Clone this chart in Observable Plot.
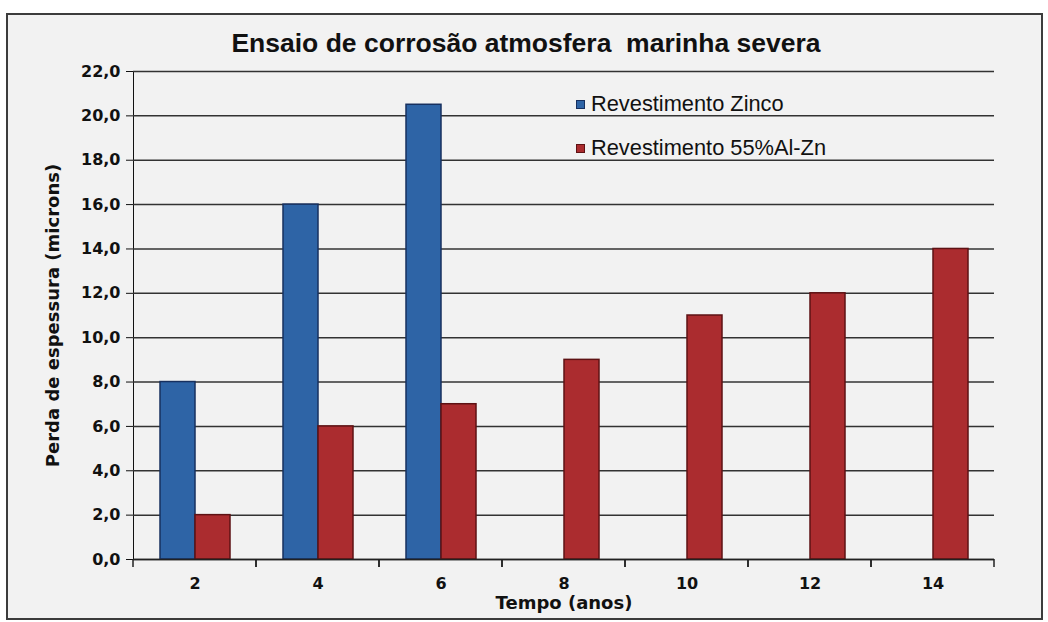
<!DOCTYPE html>
<html>
<head>
<meta charset="utf-8">
<script src="https://cdn.jsdelivr.net/npm/d3@7"></script>
<script src="https://cdn.jsdelivr.net/npm/@observablehq/plot@0.6"></script>
<style>
  html, body { margin: 0; padding: 0; background: #ffffff; }
  #wrap { position: relative; width: 1048px; height: 622px; overflow: hidden; }
  #frame { position: absolute; left: 6px; top: 13px; width: 1033px; height: 603px;
           border: 2px solid #3c3c3c; background: #f2f2f2; }
  #title { position: absolute; left: 0; width: 1052px; top: 28px; text-align: center;
           font-family: "Liberation Sans", Arial, sans-serif; font-weight: bold; font-size: 26.5px; color: #111; }
  #chart { position: absolute; left: 0; top: 60px; }
  .leg { position: absolute; left: 576px; font-family: "Liberation Sans", Arial, sans-serif;
         font-size: 21.8px; color: #111; display: flex; align-items: center; white-space: nowrap; }
  .leg .sw { width: 7px; height: 7px; margin-right: 6px; border: 1px solid; }
  #chart [aria-label="y-axis label"], #chart [aria-label="fx-axis label"] { font-size: 18px; }
</style>
</head>
<body>
<div id="wrap">
  <div id="frame"></div>
  <div id="title">Ensaio de corrosão atmosfera&nbsp; marinha severa</div>
  <div id="chart"></div>
  <div class="leg" style="top:91px"><span class="sw" style="background:#2e64a6;border-color:#17305f"></span>Revestimento Zinco</div>
  <div class="leg" style="top:135px"><span class="sw" style="background:#ab2c2f;border-color:#5e1214"></span>Revestimento 55%Al-Zn</div>
</div>
<script>
const years = [2, 4, 6, 8, 10, 12, 14];
const zinco = [8.0, 16.0, 20.5, null, null, null, null];
const alzn = [2.0, 6.0, 7.0, 9.0, 11.0, 12.0, 14.0];
const seriesNames = ["Revestimento Zinco", "Revestimento 55%Al-Zn"];
const yTicks = [0, 2, 4, 6, 8, 10, 12, 14, 16, 18, 20, 22];
const yLabel = "Perda de espessura (microns)";
const xLabel = "Tempo (anos)";

const zData = years.map((y, i) => ({year: y, series: seriesNames[0], value: zinco[i]})).filter(d => d.value != null);
const aData = years.map((y, i) => ({year: y, series: seriesNames[1], value: alzn[i]})).filter(d => d.value != null);

const boundaryTicks = (index, scales) => {
  const g = d3.create("svg:g");
  const r = scales.x.range();
  const y0 = scales.y(0);
  for (const xv of [Math.min(...r), Math.max(...r)]) {
    g.append("line").attr("x1", xv).attr("x2", xv).attr("y1", y0).attr("y2", y0 + 8)
      .attr("stroke", "#222").attr("stroke-width", 1.5);
  }
  return g.node();
};

const chart = Plot.plot({
  width: 1048,
  height: 560,
  marginLeft: 131,
  marginRight: 52,
  marginTop: 11,
  marginBottom: 61,
  style: {fontFamily: "DejaVu Sans", fontSize: "16px", fontWeight: "bold", color: "#111", background: "transparent"},
  fx: {domain: years, padding: 0, axis: "bottom", tickSize: 0, tickPadding: 18, label: xLabel, labelAnchor: "center", labelOffset: 49, labelArrow: "none"},
  x: {domain: seriesNames, axis: null, paddingInner: 0, paddingOuter: 0.75},
  y: {domain: [0, 22], ticks: yTicks, tickFormat: d => d.toFixed(1).replace(".", ","), tickSize: 7, tickPadding: 6,
      line: true, label: yLabel, labelAnchor: "center", labelOffset: 87, labelArrow: "none"},
  marks: [
    Plot.ruleY(yTicks, {stroke: "#333", strokeWidth: 1.5}),
    Plot.barY(zData, {fx: "year", x: "series", y: "value", fill: "#2e64a6", stroke: "#17305f", strokeWidth: 1.5}),
    Plot.barY(aData, {fx: "year", x: "series", y: "value", fill: "#ab2c2f", stroke: "#5e1214", strokeWidth: 1.5}),
    Plot.ruleY([0], {stroke: "#222", strokeWidth: 1.5}),
    boundaryTicks
  ]
});
// make sure no arrow is appended to the axis titles
d3.select(chart).selectAll('[aria-label="y-axis label"] text').text(yLabel);
d3.select(chart).selectAll('[aria-label="fx-axis label"] text').text(xLabel);
document.getElementById("chart").appendChild(chart);
</script>
</body>
</html>
